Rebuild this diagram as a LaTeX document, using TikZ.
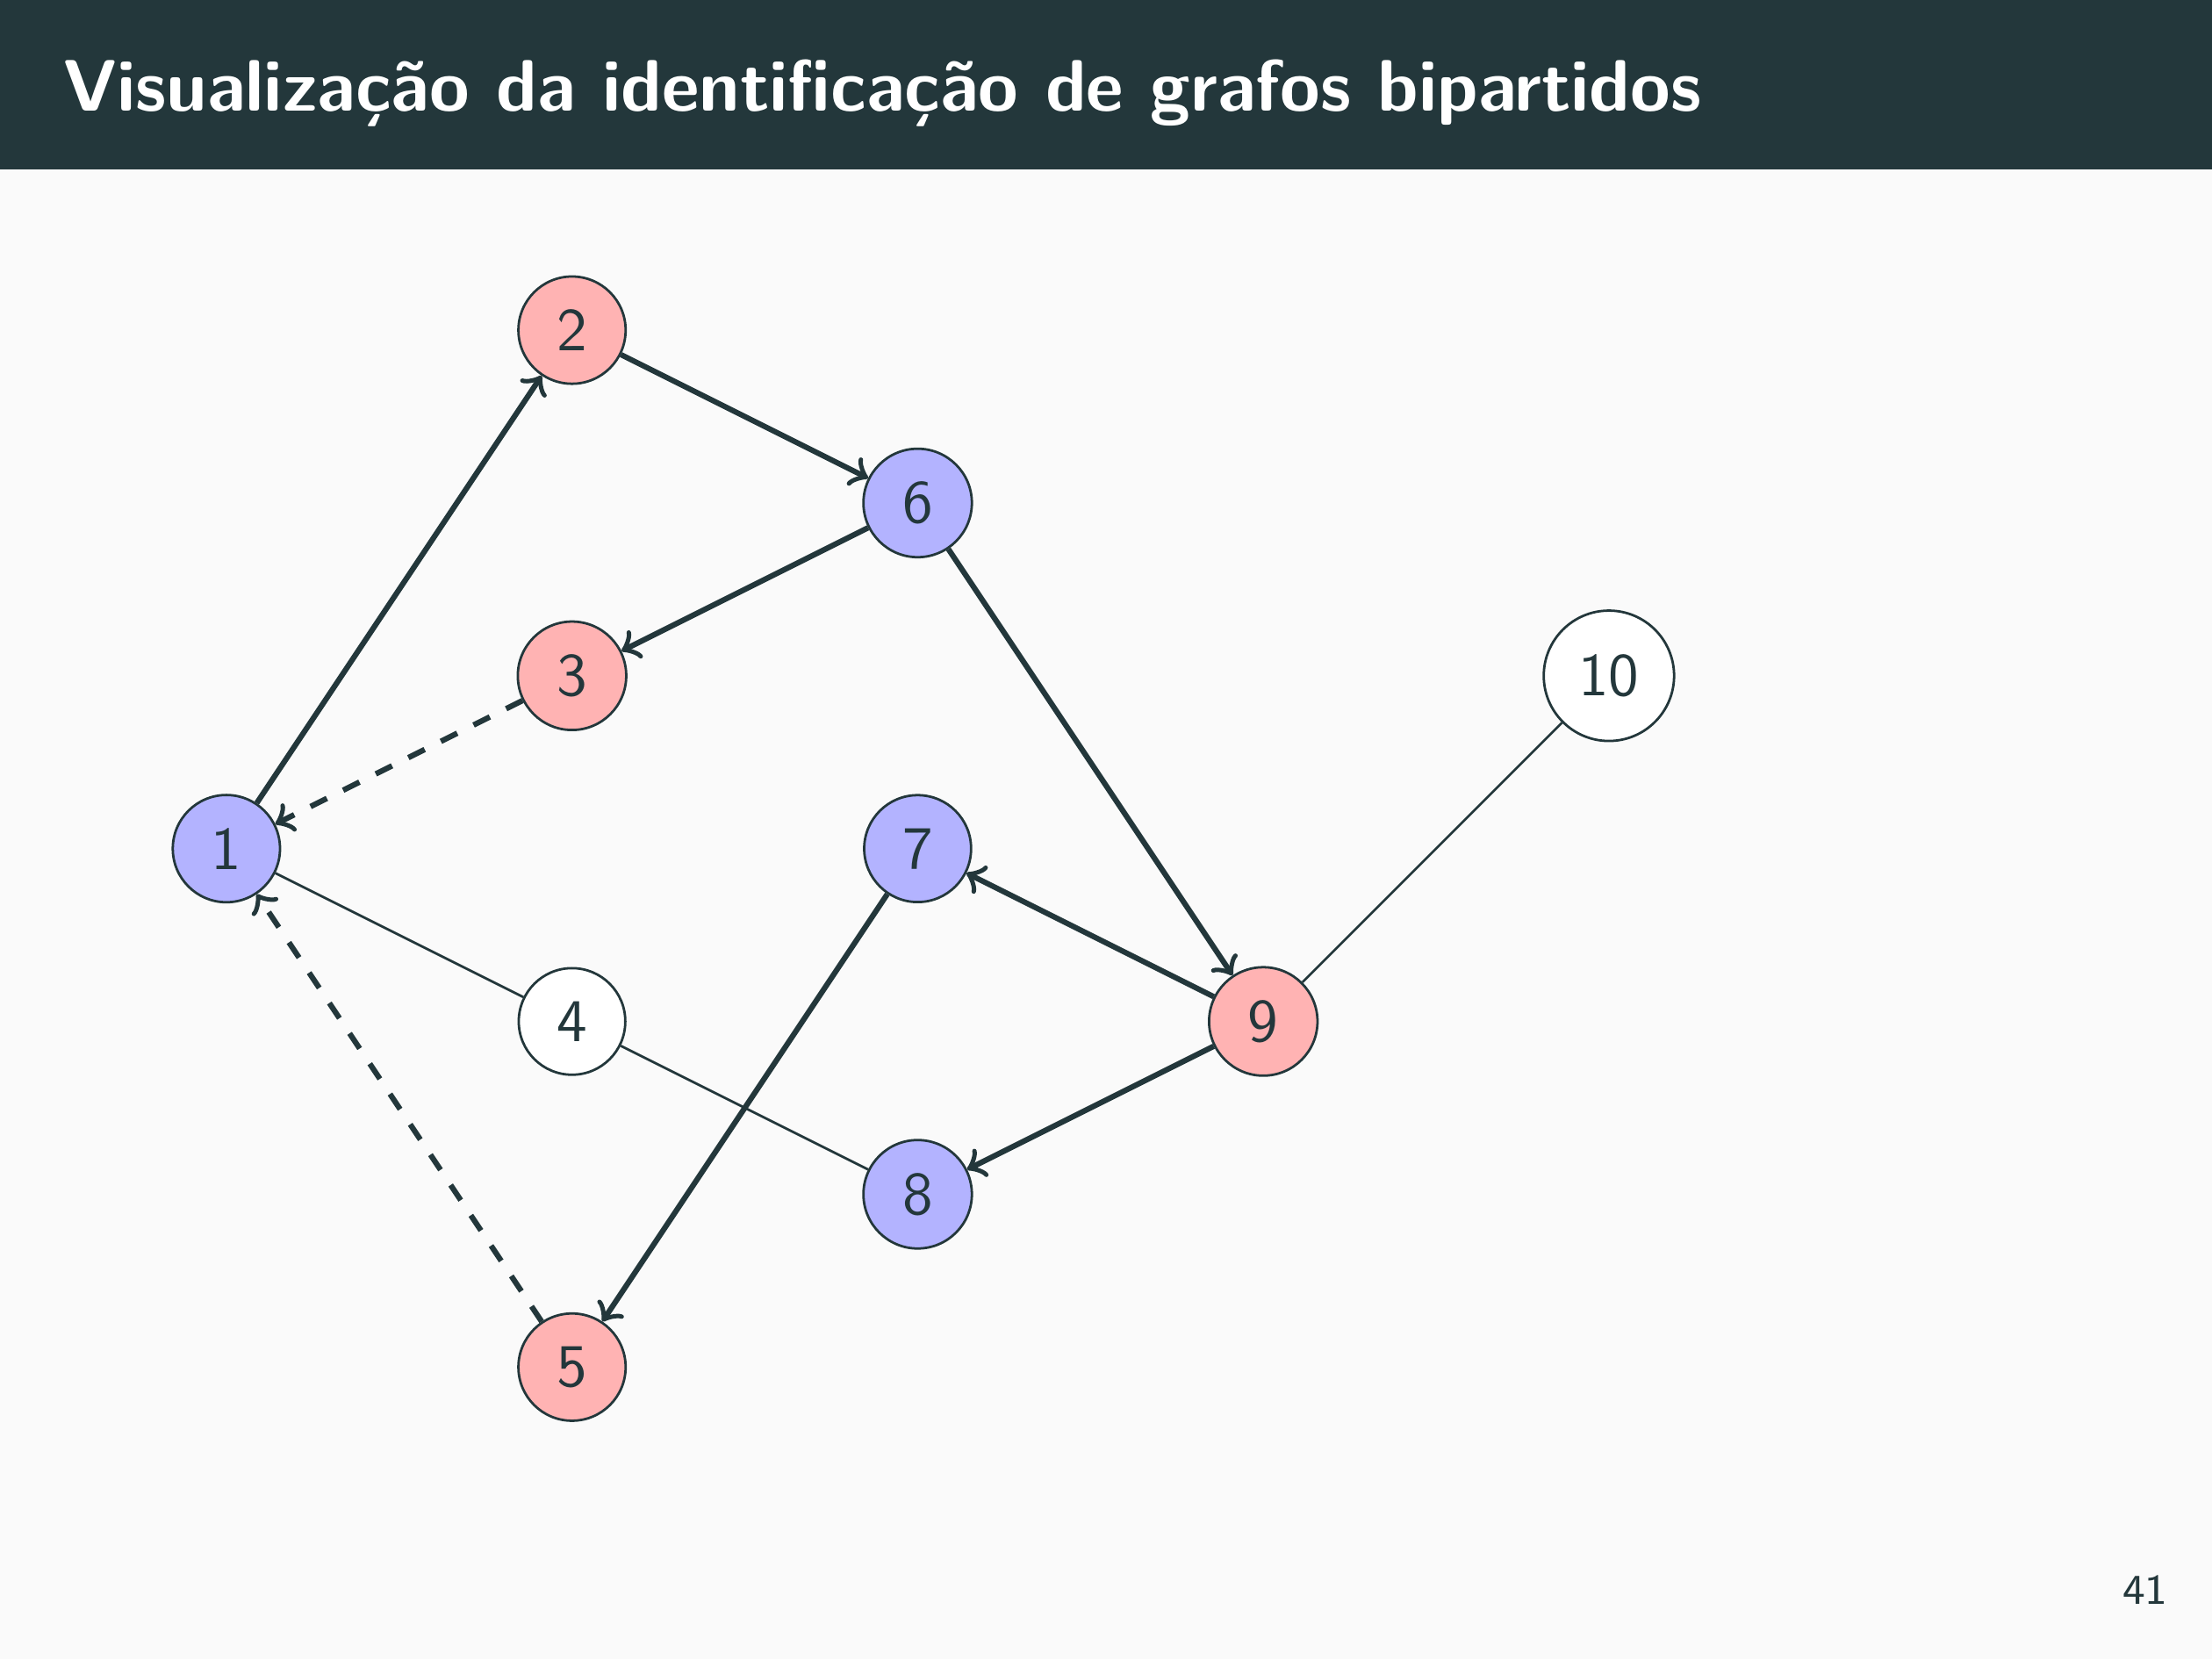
\documentclass[tikz,border=0pt]{standalone}
\usepackage{tikz}
\usetikzlibrary{positioning}
\definecolor{mDark}{HTML}{23373B}
\definecolor{mBack}{HTML}{FAFAFA}
\definecolor{nodeblue}{HTML}{B3B3FF}
\definecolor{nodered}{HTML}{FFB3B3}

\begin{document}
\begin{tikzpicture}[>=to, node distance=1cm and 2cm, on grid,
  vertex/.style={circle, draw=mDark, fill=white, text=mDark, inner sep=3.3pt, font=\sffamily\fontsize{10}{12}\selectfont},
  bluev/.style={vertex, fill=nodeblue}, redv/.style={vertex, fill=nodered},
  tree/.style={->, draw=mDark, line width=0.9pt},
  back/.style={tree, dashed},
  plain/.style={draw=mDark, line width=0.4pt}]
\fill[mBack] (0,0) rectangle (12.8,-9.6);
\fill[mDark] (0,0) rectangle (12.8,-0.98);
\node[anchor=base west, text=white, inner sep=0pt, font=\sffamily\bfseries\fontsize{12}{14}\selectfont] (title) at (0.36,-0.64) {Visualização da identificação de grafos bipartidos};
\node[anchor=base east, text=mDark, inner sep=0pt, font=\sffamily\fontsize{7}{9}\selectfont] (page) at (12.55,-9.28) {41};
% vertices
\node[bluev] (n1) at (1.31,-4.91) {1};
\node[redv] (n2) [above right=3cm and 2cm of n1] {2};
\node[redv] (n3) [below=2cm of n2] {3};
\node[vertex] (n4) [below=2cm of n3] {4};
\node[redv] (n5) [below=2cm of n4] {5};
\node[bluev] (n6) [below right=of n2] {6};
\node[bluev] (n7) [below=2cm of n6] {7};
\node[bluev] (n8) [below=2cm of n7] {8};
\node[redv] (n9) [below right=of n7] {9};
\node[vertex] (n10) [above right=2cm and 2cm of n9] {10};
% edges
\draw[tree] (n1)--(n2); \draw[tree] (n2)--(n6); \draw[tree] (n6)--(n3); \draw[tree] (n6)--(n9);
\draw[tree] (n9)--(n7); \draw[tree] (n9)--(n8); \draw[tree] (n7)--(n5);
\draw[back] (n3)--(n1); \draw[back] (n5)--(n1);
\draw[plain] (n1)--(n4); \draw[plain] (n4)--(n8); \draw[plain] (n9)--(n10);
\end{tikzpicture}
\end{document}
